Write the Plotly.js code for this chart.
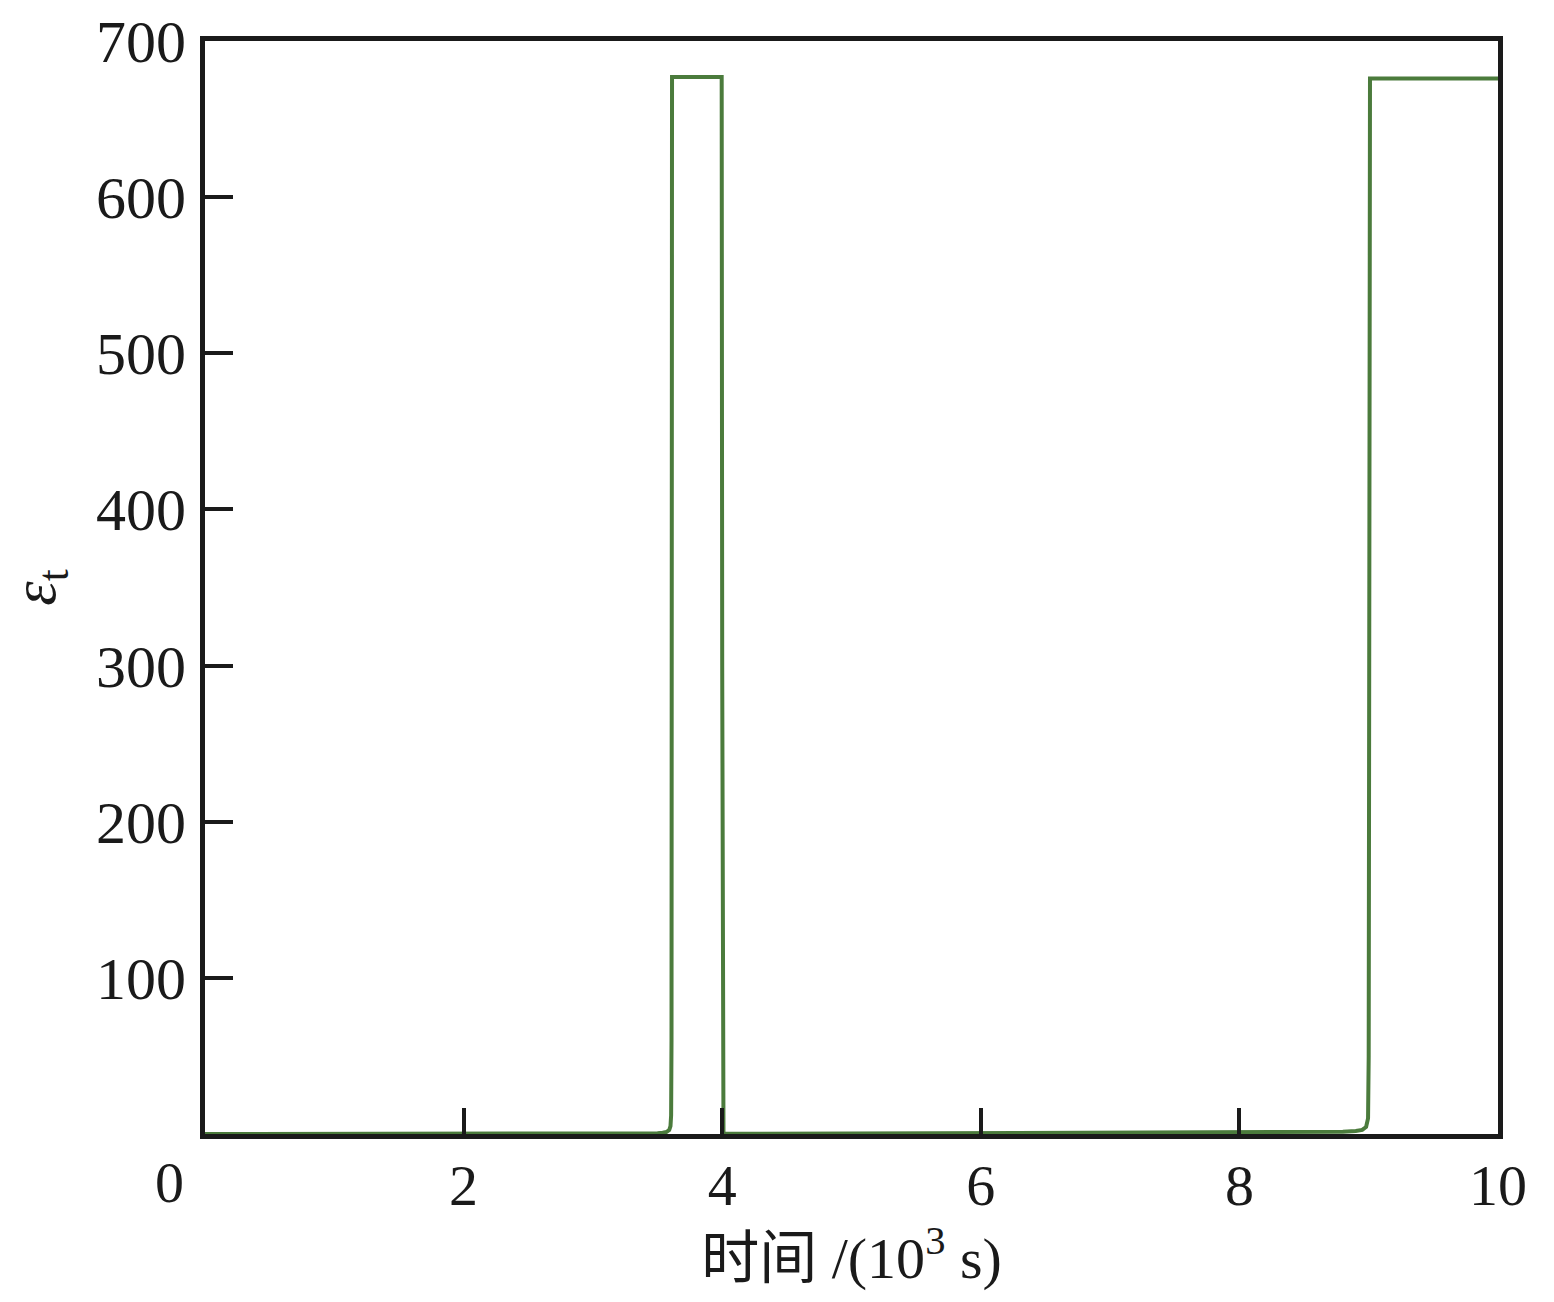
<!DOCTYPE html>
<html>
<head>
<meta charset="utf-8">
<script src="https://cdn.plot.ly/plotly-3.0.1.min.js"></script>
<style>html,body{margin:0;padding:0;background:#fff;}#chart{width:1554px;height:1302px;}</style>
</head>
<body>
<div id="chart"></div>
<script>
const timeK = [0, 1, 2, 3, 3.4, 3.5, 3.54, 3.57, 3.59, 3.6, 3.605, 3.608, 3.612, 3.99, 3.996, 4.0, 4.01, 5, 6, 7, 8, 8.6, 8.8, 8.9, 8.95, 8.98, 8.995, 9.0, 9.004, 9.01, 10];
const epsT  = [0, 0, 0, 0.1, 0.3, 0.5, 0.8, 1.3, 2.5, 5, 12, 60, 677, 677, 677, 300, 0.2, 0.3, 0.5, 0.8, 1.1, 1.3, 1.5, 1.9, 2.6, 4.5, 10, 50, 676, 676, 676];
const xTickVals = [2, 4, 6, 8, 10];
const xTickText = ['2', '4', '6', '8', '10'];
const originLabel = '0';
const yTickVals = [100, 200, 300, 400, 500, 600, 700];
const yTickText = ['100', '200', '300', '400', '500', '600', '700'];

const serif = '"Liberation Serif", "Times New Roman", "Noto Sans CJK SC", serif';

Plotly.newPlot('chart', [{
  x: timeK, y: epsT, type: 'scatter', mode: 'lines',
  line: {color: '#4b7b3c', width: 4}, hoverinfo: 'skip'
}], {
  width: 1554, height: 1302,
  margin: {l: 205, r: 56, t: 41, b: 168},
  paper_bgcolor: '#fff', plot_bgcolor: '#fff',
  showlegend: false,
  font: {family: serif, color: '#1a1a1a'},
  xaxis: {
    range: [0, 10], tickvals: xTickVals, ticktext: xTickText,
    ticks: 'inside', ticklen: 26, tickwidth: 4, tickcolor: '#1a1a1a',
    showline: true, linewidth: 5, linecolor: '#1a1a1a', mirror: true,
    showgrid: false, zeroline: false, ticklabelstandoff: -4,
    tickfont: {family: serif, size: 58, color: '#1a1a1a'},
    title: {text: '时间 /(10<sup>3</sup> s)', font: {family: serif, size: 58, color: '#1a1a1a'}, standoff: 0}
  },
  yaxis: {
    range: [0, 700], tickvals: yTickVals, ticktext: yTickText,
    ticks: 'inside', ticklen: 28, tickwidth: 4, tickcolor: '#1a1a1a',
    showline: true, linewidth: 5, linecolor: '#1a1a1a', mirror: true,
    showgrid: false, zeroline: false, ticklabelstandoff: 2,
    tickfont: {family: serif, size: 60, color: '#1a1a1a'},
    title: {text: '<i>ε</i><sub>t</sub>', font: {family: serif, size: 62, color: '#1a1a1a'}, standoff: 34}
  },
  annotations: [{
    x: 0, y: 0, xref: 'x', yref: 'y', text: originLabel, showarrow: false,
    xanchor: 'center', yanchor: 'top', xshift: -36, yshift: -14,
    font: {family: serif, size: 58, color: '#1a1a1a'}
  }]
}, {displayModeBar: false, staticPlot: true});
</script>
</body>
</html>
